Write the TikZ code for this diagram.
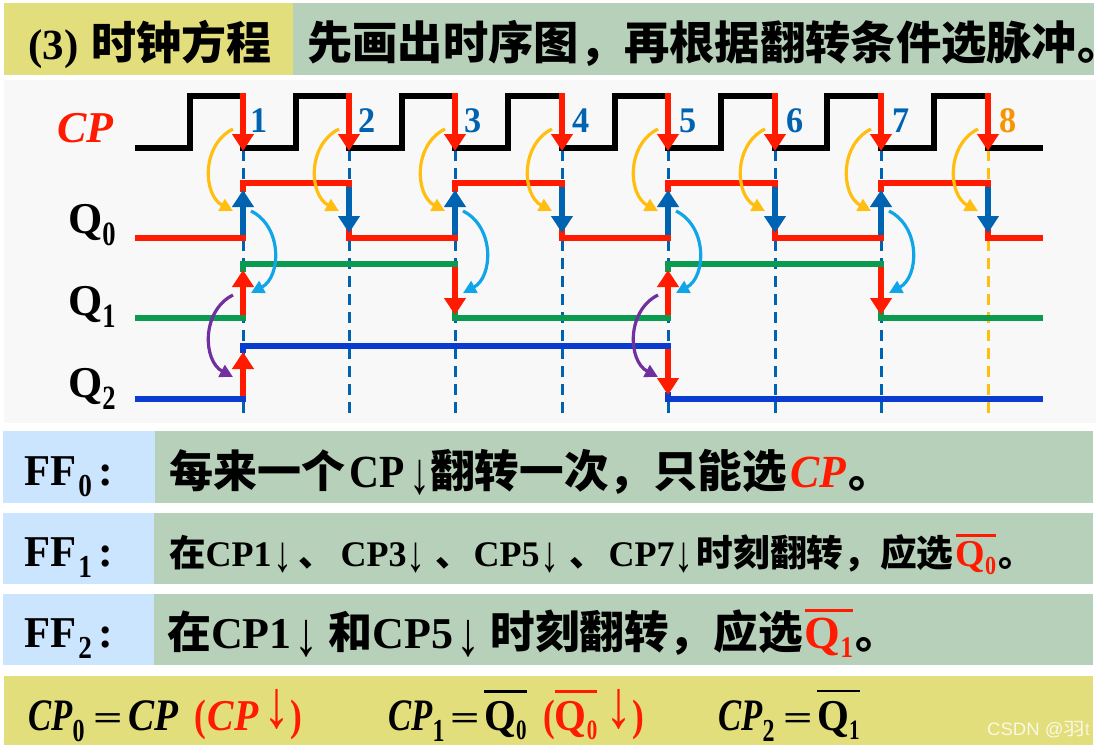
\documentclass[tikz,border=0pt]{standalone}
\usepackage{fontspec}
\usepackage{graphicx}
\setmainfont{Liberation Serif}
\newfontfamily\lat{Liberation Serif}
\newfontfamily\cjk{Noto Sans CJK SC}
\newfontfamily\wmf{Liberation Sans}
\usetikzlibrary{arrows.meta}
\definecolor{yelbar}{HTML}{E3DE7C}
\definecolor{grnbar}{HTML}{B7D0B9}
\definecolor{blubar}{HTML}{CCE5FF}
\definecolor{panel}{HTML}{F8F8F8}
\definecolor{cpred}{HTML}{FF1A00}
\definecolor{dblue}{HTML}{0063B1}
\definecolor{qgreen}{HTML}{0A9A50}
\definecolor{qblue}{HTML}{0A3CD0}
\definecolor{orng}{HTML}{FFBE10}
\definecolor{lblue}{HTML}{10A4E8}
\definecolor{purp}{HTML}{7030A0}
\definecolor{num8}{HTML}{F79400}
\newcommand\fsz[1]{\fontsize{#1}{#1}\selectfont}
% raised/lowered index: raise, size, x scale, text
\newcommand\lowi[4]{\raisebox{#1pt}{\scalebox{#3}[1]{\fsz{#2}#4}}}
% bar above: raise, thickness, content
\newcommand\ovl[3]{\leavevmode\setbox0\hbox{#3}\rlap{\raisebox{#1pt}{\rule{\wd0}{#2pt}}}\box0 }
% thin down arrow: width, total height, depth below base line
\newcommand\dar[3]{\leavevmode\setbox2\hbox{\resizebox*{#1pt}{#2pt}{\mdseries\lat ↓}}\lower\dimexpr #3pt-\dp2\relax\box2 }
\newcommand\zh[2]{{\cjk\fsz{#1}#2}}
\newcommand\eqs{\raisebox{1pt}{\scalebox{1.3}[.85]{\fsz{40}=}}}
\tikzset{
  txt/.style={anchor=base west,inner sep=0pt,font=\bfseries},
  wave/.style={line width=6pt,line cap=butt,line join=miter},
  dashline/.style={line width=3pt,dash pattern=on 11pt off 7pt},
  edge/.style={line width=6pt,-{Triangle[width=21pt,length=17pt]}},
  curv/.style={line width=3.2pt,-{Triangle[width=13pt,length=13pt]}}
}
\begin{document}
\begin{tikzpicture}[x=1pt,y=-1pt]
\useasboundingbox (0,0) rectangle (1096,747);
\fill[white] (0,0) rectangle (1096,747);
% bars
\fill[yelbar] (4,3) rectangle (293,75);
\fill[grnbar] (293,3) rectangle (1094,75);
\fill[panel] (4,80) rectangle (1096,423);
\fill[blubar] (3,431) rectangle (155,503);
\fill[grnbar] (155,431) rectangle (1093,503);
\fill[blubar] (3,513) rectangle (154,584);
\fill[grnbar] (154,513) rectangle (1093,584);
\fill[blubar] (3,594) rectangle (154,665);
\fill[grnbar] (154,594) rectangle (1093,665);
\fill[yelbar] (4,676) rectangle (1093,745);
% heading
\node[txt] (h1) at (28,59) {\fsz{43}(3)};
\node[txt] (h2) at (91,59) {\zh{45}{时钟方程}};
\node[txt] (h3) at (307,59) {\zh{45.3}{先画出时序图，再根据翻转条件选脉冲\makebox[18pt][l]{。}}};
% dashed guides
\foreach \x in {243,349,455,562,668,775,881}
  \draw[dashline,dblue] (\x,150) -- (\x,415);
\draw[dashline,orng] (988,150) -- (988,415);
% CP
\draw[wave,black] (135,148) -- (190,148) -- (190,96) -- (243,96) -- (243,148)
  -- (296,148) -- (296,96) -- (349,96) -- (349,148)
  -- (402,148) -- (402,96) -- (455,96) -- (455,148)
  -- (508,148) -- (508,96) -- (562,96) -- (562,148)
  -- (615,148) -- (615,96) -- (668,96) -- (668,148)
  -- (721,148) -- (721,96) -- (775,96) -- (775,148)
  -- (827,148) -- (827,96) -- (881,96) -- (881,148)
  -- (934,148) -- (934,96) -- (988,96) -- (988,148) -- (1043,148);
\foreach \x in {243,349,455,562,668,775,881,988}
  \draw[edge,cpred] (\x,93) -- (\x,151);
% Q0
\draw[wave,cpred] (135,238) -- (243,238);
\foreach \a/\b in {243/349,455/562,668/775,881/988}
  \draw[wave,cpred] (\a,192) -- (\a,183) -- (\b,183) -- (\b,188);
\foreach \a/\b in {349/455,562/668,775/881}
  \draw[wave,cpred] (\a,228) -- (\a,238) -- (\b,238);
\draw[wave,cpred] (988,228) -- (988,238) -- (1043,238);
\foreach \x in {243,455,668,881} {
  \draw[wave,cpred] (\x-3,238) -- (\x+3,238);
  \draw[edge,dblue] (\x,235) -- (\x,190);
}
\foreach \x in {349,562,775,988}
  \draw[edge,dblue] (\x,187) -- (\x,233);
% Q1
\draw[wave,qgreen] (135,318) -- (246,318);
\foreach \a/\b in {243/455,668/881}
  \draw[wave,qgreen] (\a,272) -- (\a,264) -- (\b+3,264);
\draw[wave,qgreen] (455,311) -- (455,318) -- (671,318);
\draw[wave,qgreen] (881,311) -- (881,318) -- (1043,318);
\foreach \x in {243,668}
  \draw[edge,cpred] (\x,315) -- (\x,270);
\foreach \x in {455,881}
  \draw[edge,cpred] (\x,267) -- (\x,315);
% Q2
\draw[wave,qblue] (135,399) -- (246,399);
\draw[wave,qblue] (243,353) -- (243,346) -- (671,346);
\draw[wave,qblue] (668,392) -- (668,399) -- (1043,399);
\draw[edge,cpred] (243,396) -- (243,352);
\draw[edge,cpred] (668,349) -- (668,395);
% curved arrows
\foreach \x in {243,349,455,562,668,775,881,988}
  \draw[curv,orng] (\x-10,129) .. controls (\x-42,145) and (\x-40,195) .. (\x-10,211);
\foreach \x in {243,455,668,881}
  \draw[curv,lblue] (\x+8,211) .. controls (\x+40,227) and (\x+38,277) .. (\x+8,293);
\foreach \x in {243,668}
  \draw[curv,purp] (\x-10,295) .. controls (\x-42,311) and (\x-40,361) .. (\x-10,377);
% numbers
\foreach \x/\t/\c in {250/1/dblue,358/2/dblue,464/3/dblue,572/4/dblue,679/5/dblue,786/6/dblue,892/7/dblue,999/8/num8}
  \node[txt,text=\c] (n\t) at (\x,132) {\scalebox{.95}[1]{\fsz{36}\t}};
% signal names
\node[txt,text=cpred] (cp) at (57,142) {\fsz{44}\itshape CP};
\node[txt] (q0) at (68,233) {\fsz{44}Q\lowi{-12}{34}{.78}{0}};
\node[txt] (q1) at (68,315) {\fsz{44}Q\lowi{-12}{34}{.78}{1}};
\node[txt] (q2) at (68,397) {\fsz{44}Q\lowi{-12}{34}{.78}{2}};
% FF rows
\node[txt] (f0) at (24,485) {\scalebox{.97}[1]{\fsz{44}FF}\hspace{2pt}\lowi{-11}{32}{.85}{0}\hspace{7pt}\fsz{44}:};
\node[txt] (f1) at (24,566) {\scalebox{.97}[1]{\fsz{44}FF}\hspace{2pt}\lowi{-11}{32}{.85}{1}\hspace{7pt}\fsz{44}:};
\node[txt] (f2) at (24,647) {\scalebox{.97}[1]{\fsz{44}FF}\hspace{2pt}\lowi{-11}{32}{.85}{2}\hspace{7pt}\fsz{44}:};
\node[txt] (t0) at (169,487) {\zh{44}{每来一个}\hspace{4pt}\scalebox{.9}[1]{\lat\fsz{46}CP}\hspace{5pt}\dar{21}{35}{8}\hspace{0pt}\zh{44.6}{翻转一次，只能选}\hspace{3pt}\textcolor{cpred}{\scalebox{.95}[1]{\lat\itshape\fsz{46}CP}}\hspace{2pt}\zh{44}{。}};
\node[txt] (t1) at (169,566) {\zh{36.5}{在}\lat\fsz{36}CP1\hspace{2pt}\dar{19}{30}{7}\hspace{6pt}\zh{36}{、}\hspace{6pt}CP3\hspace{0pt}\dar{19}{30}{7}\hspace{10pt}\zh{36}{、}\hspace{2pt}CP5\hspace{1pt}\dar{19}{30}{7}\hspace{10pt}\zh{36}{、}\hspace{3pt}CP7\hspace{0pt}\dar{19}{30}{7}\hspace{3pt}\zh{36.7}{时刻翻转，应选}\hspace{2pt}\textcolor{cpred}{\ovl{29.5}{3}{\fsz{38}Q\lowi{-8}{26}{.85}{0}}}\hspace{2pt}\zh{36}{。}};
\node[txt] (t2) at (167,648) {\zh{44}{在}\lat\fsz{44}CP1\hspace{3pt}\dar{24}{37}{9}\hspace{10pt}\zh{44}{和}CP5\hspace{3pt}\dar{24}{37}{9}\hspace{10pt}\zh{44.6}{时刻翻转，应选}\hspace{2pt}\textcolor{cpred}{\ovl{36}{3}{\fsz{46}Q\lowi{-9}{30}{.85}{1}}}\hspace{2pt}\zh{44}{。}};
% equations
\node[txt] (e1) at (28,730) {\fsz{45}\scalebox{.77}[1]{\textit{CP}}\lowi{-11}{32}{.75}{0}};
\node[txt] (e2) at (93,730) {\eqs};
\node[txt] (e3) at (128,730) {\fsz{45}\scalebox{.87}[1]{\textit{CP}}};
\node[txt,text=cpred] (e4) at (194,730) {\fsz{44}\scalebox{.8}[1]{(}\hspace{2pt}\scalebox{.9}[1]{\textit{CP}}\hspace{5pt}\dar{27}{40}{0}\scalebox{.8}[1]{)}};
\node[txt] (e5) at (388,730) {\fsz{45}\scalebox{.77}[1]{\textit{CP}}\lowi{-11}{32}{.75}{1}};
\node[txt] (e6) at (450,730) {\eqs};
\node[txt] (e7) at (484,730) {\ovl{37.5}{2.5}{\fsz{44}\scalebox{.93}[1]{Q}\lowi{-9}{28}{.75}{0}}};
\node[txt,text=cpred] (e8) at (543,730) {\fsz{44}\scalebox{.8}[1]{(}\ovl{37.5}{2.5}{\scalebox{.93}[1]{Q}\lowi{-9}{28}{.75}{0}}\hspace{8pt}\dar{27}{40}{0}\scalebox{.8}[1]{)}};
\node[txt] (e9) at (718,730) {\fsz{45}\scalebox{.77}[1]{\textit{CP}}\lowi{-11}{32}{.75}{2}};
\node[txt] (e10) at (783,730) {\eqs};
\node[txt] (e11) at (817,730) {\ovl{38}{2.5}{\fsz{44}\scalebox{.93}[1]{Q}\lowi{-9}{28}{.75}{1}}};
% watermark
\node[anchor=base west,inner sep=0pt,text=white,opacity=.8] (wm) at (987,735) {\wmf\fsz{18}\scalebox{1.03}[1]{CSDN @}\scalebox{1.2}[1]{\cjk 羽}\scalebox{.8}[1]{t}};
\end{tikzpicture}
\end{document}
